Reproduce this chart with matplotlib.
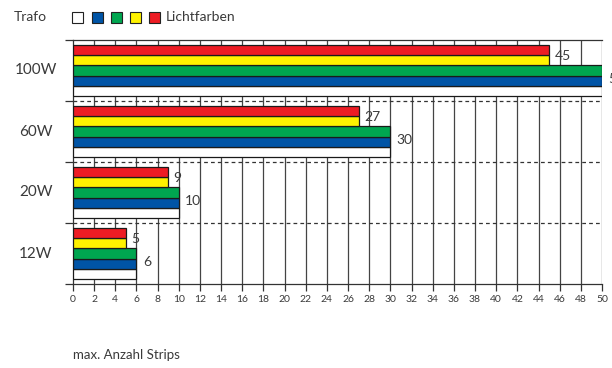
import matplotlib
matplotlib.use("Agg")
import matplotlib.pyplot as plt
from matplotlib.patches import Rectangle

plt.rcParams['font.family'] = ['Lato', 'DejaVu Sans']

# transformer rows, top to bottom as drawn
trafos = ['12W', '20W', '60W', '100W']
# max. number of strips per light colour
weiss = [6, 10, 30, 50]
blau = [6, 10, 30, 50]
gruen = [6, 10, 30, 50]
gelb = [5, 9, 27, 45]
rot = [5, 9, 27, 45]

series = [weiss, blau, gruen, gelb, rot]
colors = ['#ffffff', '#0054a6', '#00a650', '#fff200', '#ed1c24']
txt = '#3a3a3a'

fig = plt.figure(figsize=(6.12, 3.68), dpi=100)
ax = fig.add_axes([73 / 612, 84 / 368, 529 / 612, 244 / 368])

# every transformer block takes 6 units: 5 bars plus half a bar gap each side
for k in range(len(trafos)):
    for j, s in enumerate(series):
        ax.barh(6 * k + 1 + j, s[k], height=1, color=colors[j],
                edgecolor='#1a1a1a', linewidth=0.9, zorder=3)
    # value labels: one for red/yellow, one for green/blue
    ax.text(rot[k] + 0.5, 6 * k + 4.4, str(rot[k]), fontsize=10, color=txt,
            va='center', ha='left', clip_on=False, zorder=4)
    ax.text(blau[k] + 0.6, 6 * k + 2.2, str(blau[k]), fontsize=10, color=txt,
            va='center', ha='left', clip_on=False, zorder=4)
    fig.text(36 / 612, (84 + (6 * k + 3) * 244 / 24) / 368, trafos[k],
             fontsize=11, color=txt, ha='center', va='center')

ax.set_xlim(0, 50)
ax.set_ylim(0, 24)

# vertical grid every 2
for x in range(2, 51, 2):
    ax.axvline(x, color='#444444', linewidth=0.9, zorder=1)
# block separators
for y in [6, 12, 18]:
    ax.axhline(y, color='#333333', linewidth=0.9, linestyle=(0, (3, 2.5)), zorder=1)

for side in ['right', 'bottom', 'top', 'left']:
    ax.spines[side].set_visible(side in ('left', 'bottom', 'top'))
    ax.spines[side].set_color('#333333')
    ax.spines[side].set_linewidth(0.9)

ax.set_xticks(range(0, 51, 2))
ax.set_xticklabels([str(v) for v in range(0, 51, 2)], fontsize=7.5, color=txt)
ax.set_yticks([0, 6, 12, 18, 24])
ax.set_yticklabels([])
ax.tick_params(axis='x', length=5, width=0.9, color='#333333', pad=3)
ax.tick_params(axis='y', length=6, width=0.9, color='#333333')

# header with colour legend
fig.text(14 / 612, 1 - 17 / 368, 'Trafo', fontsize=10, color=txt, va='center')
for i, c in enumerate(colors):
    x0 = [72, 92, 111, 130, 149][i]
    fig.patches.append(Rectangle((x0 / 612, 1 - 22.5 / 368), 11 / 612, 11 / 368,
                                 transform=fig.transFigure, facecolor=c,
                                 edgecolor='#222222', linewidth=0.8))
fig.text(166 / 612, 1 - 17 / 368, 'Lichtfarben', fontsize=10, color=txt, va='center')

fig.text(73 / 612, 1 - 355 / 368, 'max. Anzahl Strips', fontsize=9.5, color=txt, va='center')

fig.savefig('out.png', dpi=100)
